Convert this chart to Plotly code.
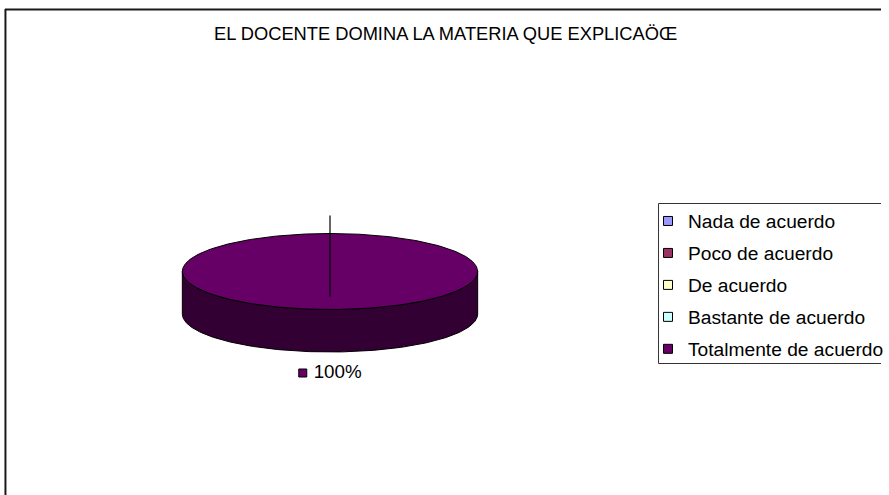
import numpy as np
import plotly.graph_objects as go

# ---- data ----
categories = ["Nada de acuerdo", "Poco de acuerdo", "De acuerdo",
              "Bastante de acuerdo", "Totalmente de acuerdo"]
values = [0, 0, 0, 0, 100]
colors = ["#9999FF", "#993366", "#FFFFCC", "#CCFFFF", "#660066"]
title_text = "EL DOCENTE DOMINA LA MATERIA QUE EXPLICAÖŒ"

# ---- geometry / style ----
W, H = 889, 495
CX, CY, RX, RY, DEPTH = 333, 271.5, 149, 38, 42.5
FONT = "Liberation Sans, Arial, sans-serif"


def darken(hexc, f=0.5):
    h = hexc.lstrip("#")
    r, g, b = (int(h[i:i + 2], 16) for i in (0, 2, 4))
    return "#%02x%02x%02x" % (int(r * f), int(g * f), int(b * f))


fig = go.Figure()
total = float(sum(values))
start = -np.pi / 2  # 12 o'clock, clockwise (screen y down)
cum = 0.0
for cat, v, c in zip(categories, values, colors):
    if v <= 0:
        continue
    t0 = start + cum / total * 2 * np.pi
    t1 = t0 + v / total * 2 * np.pi
    cum += v
    full = np.isclose(v, total)
    # front side wall: visible where sin(t) > 0
    a0 = 0.0 if full else max(t0 % (2 * np.pi), 0.0)
    a1 = np.pi if full else min(t1 % (2 * np.pi), np.pi)
    if a1 > a0:
        ts = np.linspace(a0, a1, 200)
        xs = np.concatenate([CX + RX * np.cos(ts), (CX + RX * np.cos(ts))[::-1]])
        ys = np.concatenate([CY + RY * np.sin(ts), (CY + RY * np.sin(ts) + DEPTH)[::-1]])
        fig.add_trace(go.Scatter(x=np.append(xs, xs[0]), y=np.append(ys, ys[0]),
                                 mode="lines", fill="toself", fillcolor=darken(c),
                                 line=dict(color="black", width=1),
                                 hoverinfo="skip", showlegend=False))
    # top face
    ts = np.linspace(t0, t1, 400)
    xs = CX + RX * np.cos(ts)
    ys = CY + RY * np.sin(ts)
    if not full:
        xs = np.concatenate([[CX], xs, [CX]])
        ys = np.concatenate([[CY], ys, [CY]])
    fig.add_trace(go.Scatter(x=xs, y=ys, mode="lines", fill="toself", fillcolor=c,
                             line=dict(color="black", width=1),
                             hoverinfo="skip", showlegend=False))
    # slice edge (cut face seen edge-on)
    ex = CX
    fig.add_trace(go.Scatter(x=[ex, ex], y=[CY - RY - 18, CY + 25], mode="lines",
                             line=dict(color="black", width=1.2),
                             hoverinfo="skip", showlegend=False))
    # data label with legend key
    tm = (t0 + t1) / 2
    lx = CX + RX * np.cos(tm)
    ly = CY + RY * np.sin(tm) + DEPTH + 21
    fig.add_trace(go.Scatter(x=[lx - 27.5], y=[ly], mode="markers",
                             marker=dict(symbol="square", size=8, color=c,
                                         line=dict(color="black", width=1)),
                             hoverinfo="skip", showlegend=False))
    fig.add_trace(go.Scatter(x=[lx - 16.5], y=[ly], mode="text",
                             text=["%d%%" % round(v / total * 100)],
                             textposition="middle right",
                             textfont=dict(family=FONT, size=18.8, color="black"),
                             hoverinfo="skip", showlegend=False))

# legend entries
for cat, c in zip(categories, colors):
    fig.add_trace(go.Scatter(x=[None], y=[None], mode="markers", name=cat,
                             legendgroup=cat,
                             marker=dict(symbol="square", size=9, color=c,
                                         line=dict(color="black", width=1))))

fig.update_layout(
    width=W, height=H,
    margin=dict(l=0, r=0, t=0, b=0),
    paper_bgcolor="white", plot_bgcolor="white",
    xaxis=dict(range=[0, W], visible=False, fixedrange=True),
    yaxis=dict(range=[H, 0], visible=False, fixedrange=True),
    showlegend=True,
    legend=dict(x=654 / W, y=1 - 202 / H, xanchor="left", yanchor="top",
                bgcolor="rgba(0,0,0,0)", borderwidth=0,
                font=dict(family=FONT, size=19.2, color="black"),
                tracegroupgap=4.0, itemclick=False, itemdoubleclick=False),
    annotations=[dict(text=title_text, x=450, y=33, xref="x", yref="y",
                      showarrow=False, font=dict(family=FONT, size=18.3, color="black"))],
    shapes=[
        dict(type="line", x0=5, x1=W + 5, y0=9.5, y1=9.5, xref="x", yref="y",
             line=dict(color="#1a1a1a", width=2)),
        dict(type="line", x0=5.5, x1=5.5, y0=9, y1=H + 5, xref="x", yref="y",
             line=dict(color="#1a1a1a", width=2)),
        dict(type="rect", x0=664.5, x1=W + 20, y0=203.5, y1=363.5, xref="x", yref="y",
             line=dict(color="#333333", width=1)),
    ],
)

fig.write_html("out.html", config={"displayModeBar": False},
               post_script="document.body.style.margin='0';"
                           "document.body.style.overflow='hidden';")
